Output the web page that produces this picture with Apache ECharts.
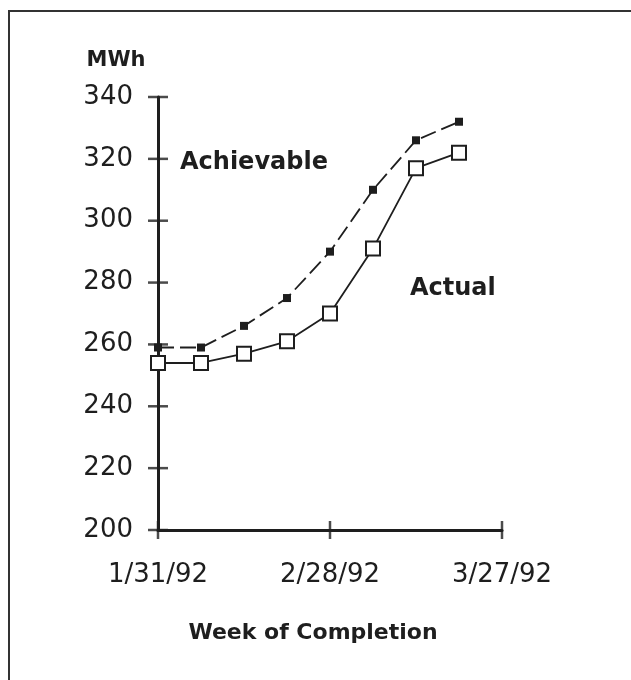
<!DOCTYPE html>
<html>
<head>
    <meta charset="utf-8">
    <title>MWh by week of completion</title>
    <script src="https://cdn.jsdelivr.net/npm/echarts@6/dist/echarts.min.js"></script>
    <style>
        html, body { margin: 0; padding: 0; background: #fff; }
        #main { width: 631px; height: 680px; }
    </style>
</head>
<body>
<div id="main"></div>
<script>
    // weeks after 1/31/92
    var weeks = [0, 1, 2, 3, 4, 5, 6, 7];
    var achievable = [259, 259, 266, 275, 290, 310, 326, 332];
    var actual = [254, 254, 257, 261, 270, 291, 317, 322];
    var dateLabels = ['1/31/92', '2/28/92', '3/27/92'];   // every 4 weeks
    var xTicks = [0, 4, 8];
    var yTicks = [200, 220, 240, 260, 280, 300, 320, 340];

    var fontFam = '"DejaVu Sans", sans-serif';
    var ink = '#1e1e1e';

    function pairs(ys) {
        return weeks.map(function (w, i) { return [w, ys[i]]; });
    }

    var myChart = echarts.init(document.getElementById('main'));

    var option = {
        backgroundColor: '#fff',
        animation: false,
        grid: { left: 158, right: 129, top: 97, bottom: 150 },
        xAxis: {
            type: 'value',
            min: 0, max: 8, interval: 4,
            axisLine: { show: true, lineStyle: { color: ink, width: 3 } },
            axisTick: { show: false },
            splitLine: { show: false },
            axisLabel: {
                color: ink, fontSize: 26, fontFamily: fontFam, margin: 32,
                formatter: function (v) { return dateLabels[v / 4]; }
            },
            name: 'Week of Completion',
            nameLocation: 'middle',
            nameGap: 92,
            nameTextStyle: { color: ink, fontSize: 22, fontWeight: 'bold', fontFamily: fontFam, padding: [0, 34, 0, 0] }
        },
        yAxis: {
            type: 'value',
            min: 200, max: 340, interval: 20,
            axisLine: { show: true, lineStyle: { color: ink, width: 3 } },
            axisTick: { show: false },
            splitLine: { show: false },
            axisLabel: { color: ink, fontSize: 26, fontFamily: fontFam, margin: 25 },
            name: 'MWh',
            nameLocation: 'end',
            nameGap: 26,
            nameTextStyle: { color: ink, fontSize: 21, fontWeight: 'bold', fontFamily: fontFam, align: 'center', padding: [0, 0, 0, -84] }
        },
        graphic: [
            {
                type: 'rect',
                shape: { x: 9, y: 11, width: 700, height: 700 },
                style: { fill: 'none', stroke: '#333', lineWidth: 2 },
                silent: true
            },
            {
                type: 'text', left: 180, top: 151,
                style: { text: 'Achievable', fill: ink, font: 'bold 24px ' + fontFam }
            },
            {
                type: 'text', left: 410, top: 277,
                style: { text: 'Actual', fill: ink, font: 'bold 24px ' + fontFam }
            }
        ],
        series: [{
            // tick marks that cross the y axis
            type: 'scatter',
            data: yTicks.map(function (v) { return [0, v]; }),
            symbol: 'rect',
            symbolSize: [20, 2.5],
            itemStyle: { color: ink },
            clip: false,
            silent: true,
            z: 1
        }, {
            // tick marks that cross the x axis
            type: 'scatter',
            data: xTicks.map(function (v) { return [v, 200]; }),
            symbol: 'rect',
            symbolSize: [2.5, 18],
            itemStyle: { color: ink },
            clip: false,
            silent: true,
            z: 1
        }, {
            name: 'Achievable',
            type: 'line',
            data: pairs(achievable),
            symbol: 'rect',
            symbolSize: 8,
            itemStyle: { color: ink },
            lineStyle: { color: ink, width: 1.8, type: [16, 6] },
            z: 2
        }, {
            name: 'Actual',
            type: 'line',
            data: pairs(actual),
            symbol: 'rect',
            symbolSize: 14,
            showAllSymbol: true,
            itemStyle: { color: '#fff', borderColor: ink, borderWidth: 2 },
            lineStyle: { color: ink, width: 1.8 },
            z: 3
        }]
    };

    myChart.setOption(option);
</script>
</body>
</html>
